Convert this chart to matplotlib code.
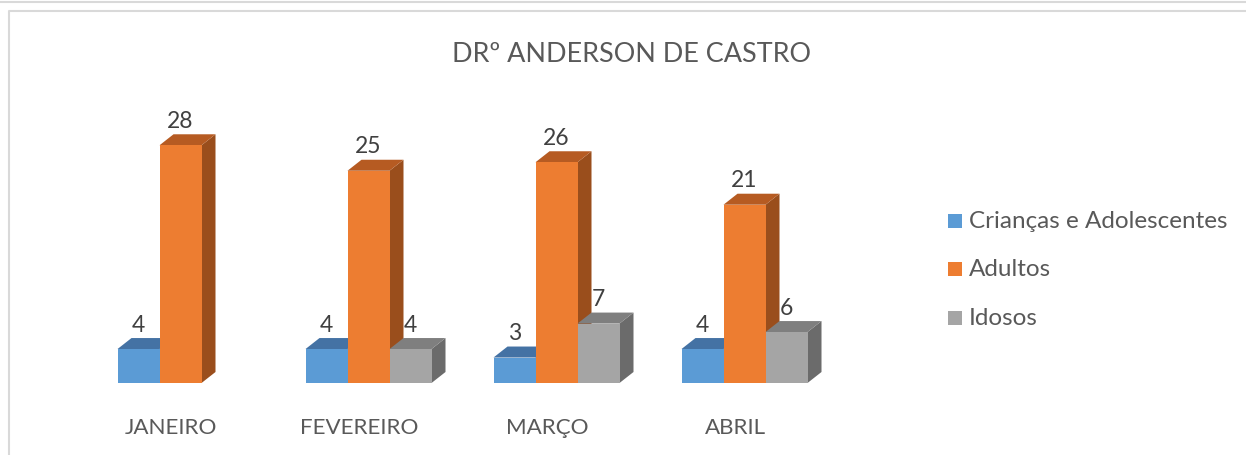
import numpy as np
import matplotlib
matplotlib.use("Agg")
import matplotlib.pyplot as plt
from matplotlib.patches import Polygon, Rectangle
from matplotlib.lines import Line2D

# ---- data ----
title = "DRº ANDERSON DE CASTRO"
categories = ["JANEIRO", "FEVEREIRO", "MARÇO", "ABRIL"]
series_names = ["Crianças e Adolescentes", "Adultos", "Idosos"]
criancas = [4, 4, 3, 4]
adultos = [28, 25, 26, 21]
idosos = [np.nan, 4, 7, 6]
series_values = [criancas, adultos, idosos]

# ---- style ----
W, H, DPI = 1246, 455, 100
FONT = "Lato"
front_cols = ["#5B9BD5", "#ED7D31", "#A5A5A5"]
top_cols = ["#4472A4", "#B65B22", "#7F7F7F"]
side_cols = ["#3A6591", "#9A4E1C", "#6B6B6B"]
txt_col = "#595959"
lab_col = "#404040"

fig = plt.figure(figsize=(W / DPI, H / DPI), dpi=DPI, facecolor="white")

def fx(x):
    return x / W

def fy(y):
    return 1 - y / H

# axes placement (pixels)
ax_l, ax_r, ax_t, ax_b = 60, 900, 90, 383
ax = fig.add_axes([fx(ax_l), fy(ax_b), (ax_r - ax_l) / W, (ax_b - ax_t) / H])
px_per_x = 188.0
px_per_y = 8.49
x0 = (ax_l - 180.5) / px_per_x
ax.set_xlim(x0, x0 + (ax_r - ax_l) / px_per_x)
ax.set_ylim(0, (ax_b - ax_t) / px_per_y)
for s in ax.spines.values():
    s.set_visible(False)
ax.set_yticks([])

bw = 42 / px_per_x
dx = 14 / px_per_x
dy = 11 / px_per_y

x = np.arange(len(categories))
for si, vals in enumerate(series_values):
    xc = x + (si - 1) * bw
    v = np.array(vals, dtype=float)
    ok = ~np.isnan(v)
    for xi, h in zip(xc[ok], v[ok]):
        xl, xr = xi - bw / 2, xi + bw / 2
        ax.add_patch(Polygon([(xr, 0), (xr + dx, dy), (xr + dx, h + dy), (xr, h)],
                             closed=True, facecolor=side_cols[si], edgecolor="none", zorder=2 + si))
        ax.add_patch(Polygon([(xl, h), (xr, h), (xr + dx, h + dy), (xl + dx, h + dy)],
                             closed=True, facecolor=top_cols[si], edgecolor="none", zorder=2 + si))
    ax.bar(xc[ok], v[ok], width=bw, color=front_cols[si], edgecolor="none", zorder=2.5 + si)
    for xi, h in zip(xc[ok], v[ok]):
        ax.annotate(f"{int(h)}", (xi, h + dy), xytext=(0, 6.5 * 72 / DPI), textcoords="offset points",
                    ha="center", va="baseline", fontsize=16.5, color=lab_col, family=FONT, zorder=10)

ax.set_xticks(x - 0.05)
ax.set_xticklabels(categories, fontsize=13, color=txt_col, family=FONT)
ax.tick_params(axis="x", length=0, pad=25)

# title
t_title = fig.text(fx(632), fy(62), title, ha="center", va="baseline", fontsize=18,
                   color=txt_col, family=FONT)

# legend
leg_y = [228, 276, 325]
leg_texts = []
for i, name in enumerate(series_names):
    fig.patches.append(Rectangle((fx(948), fy(leg_y[i])), 14 / W, 14 / H, transform=fig.transFigure,
                                 facecolor=front_cols[i], edgecolor="none"))
    leg_texts.append(fig.text(fx(969), fy(leg_y[i]), name, ha="left", va="baseline", fontsize=14,
                              color=txt_col, family=FONT))

# border lines
fig.add_artist(Line2D([0, 1], [fy(1.5), fy(1.5)], transform=fig.transFigure, color="#D9D9D9", lw=1.5))
fig.add_artist(Line2D([fx(8.5), fx(8.5), 1], [0, fy(10.5), fy(10.5)], transform=fig.transFigure,
                      color="#D9D9D9", lw=1.5))

# fit text widths to reference
r = fig.canvas.get_renderer()
def fit(t, target):
    w = t.get_window_extent(r).width
    t.set_fontsize(t.get_fontsize() * target / w)

fit(t_title, 358)
fit(leg_texts[0], 259)
for t in leg_texts[1:]:
    t.set_fontsize(leg_texts[0].get_fontsize())
tl = ax.get_xticklabels()
fig.canvas.draw()
w0 = tl[1].get_window_extent(r).width
fs = 13 * 118 / w0
for t in tl:
    t.set_fontsize(fs)

fig.savefig("out.png", dpi=DPI, facecolor="white")
